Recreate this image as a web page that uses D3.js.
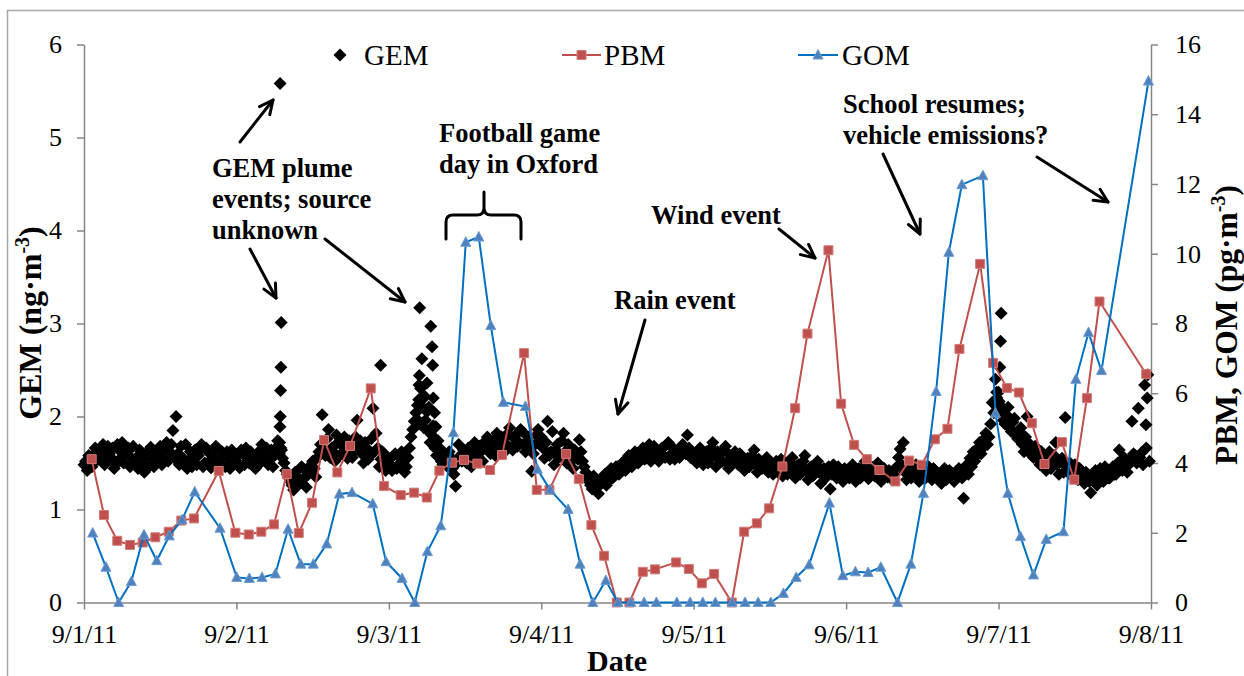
<!DOCTYPE html>
<html>
<head>
<meta charset="utf-8">
<script src="https://cdn.jsdelivr.net/npm/d3@7"></script>
<style>
  html, body { margin: 0; padding: 0; background: #fff; }
  svg { display: block; }
  text { font-family: "Liberation Serif", "Times New Roman", serif; fill: #000; }
</style>
</head>
<body>
<svg id="chart" width="1244" height="676"></svg>
<script>
// ---- data -------------------------------------------------------------
// Time axis is expressed in hours after 9/1/11 00:00.
const dayHours = [0, 24, 48, 72, 96, 120, 144, 168];
const dateLabels = ["9/1/11", "9/2/11", "9/3/11", "9/4/11", "9/5/11", "9/6/11", "9/7/11", "9/8/11"];
const gemTicks = [0, 1, 2, 3, 4, 5, 6];
const oxidizedTicks = [0, 2, 4, 6, 8, 10, 12, 14, 16];

// GEM (ng/m3) readings on the hour and half hour, starting 9/1 00:00
const gemStepHours = 0.5;
const gemOnHalfHour = [
  // 9/1
  1.48,1.42,1.55,1.50,1.62,1.58,1.70,1.52,1.60,1.66,1.48,1.64,
  1.72,1.58,1.66,1.55,1.50,1.44,1.62,1.40,1.58,1.67,1.46,1.52,
  1.68,1.55,1.72,1.62,1.85,2.00,1.48,1.56,1.70,1.52,1.46,1.64,
  1.58,1.70,1.50,1.62,1.45,1.55,1.66,1.48,1.58,1.62,1.44,1.52,
  // 9/2
  1.52,1.45,1.60,1.66,1.50,1.58,1.44,1.62,1.70,1.55,1.48,1.64,
  1.58,1.74,1.66,1.50,1.38,1.30,1.21,1.36,1.28,1.44,1.24,1.40,
  1.52,1.35,1.62,2.02,1.58,1.86,1.66,1.52,1.72,1.60,1.78,1.55,
  1.68,1.62,1.96,1.74,1.50,1.66,1.58,2.09,1.82,1.46,1.62,1.42,
  // 9/3
  1.55,1.42,1.60,1.48,1.62,1.40,1.56,1.78,1.95,2.12,2.30,1.88,
  2.05,1.72,1.90,1.58,1.66,1.48,1.55,1.62,1.44,1.25,1.70,1.52,
  1.58,1.66,1.46,1.72,1.55,1.62,1.68,1.78,1.60,1.74,1.82,1.66,
  1.76,1.70,1.88,1.64,1.80,1.72,1.84,1.62,1.78,1.41,1.70,1.86,
  // 9/4
  1.78,1.55,1.95,1.62,1.48,1.70,1.58,1.82,1.50,1.66,1.44,1.60,
  1.75,1.52,1.40,1.30,1.22,1.32,1.17,1.28,1.38,1.30,1.44,1.36,
  1.46,1.40,1.52,1.44,1.55,1.48,1.60,1.52,1.66,1.55,1.70,1.58,
  1.62,1.52,1.66,1.56,1.72,1.60,1.54,1.64,1.58,1.68,1.80,1.56,
  // 9/5
  1.58,1.50,1.66,1.48,1.62,1.54,1.72,1.46,1.60,1.52,1.68,1.44,
  1.56,1.62,1.48,1.58,1.42,1.55,1.50,1.64,1.40,1.52,1.46,1.56,
  1.44,1.38,1.52,1.46,1.36,1.50,1.42,1.56,1.34,1.48,1.40,1.58,
  1.32,1.46,1.38,1.52,1.28,1.44,1.36,1.22,1.48,1.34,1.42,1.30,
  // 9/6
  1.42,1.34,1.48,1.30,1.44,1.38,1.52,1.33,1.46,1.36,1.50,1.30,
  1.44,1.35,1.40,1.38,1.46,1.65,1.72,1.32,1.42,1.36,1.48,1.30,
  1.40,1.34,1.46,1.32,1.42,1.38,1.28,1.44,1.35,1.40,1.30,1.36,
  1.42,1.12,1.48,1.55,1.62,1.58,1.72,1.66,1.82,1.78,2.15,2.40,
  // 9/7
  2.26,2.05,1.92,2.10,1.84,1.98,1.76,1.88,1.62,2.00,1.70,1.56,
  1.66,1.48,1.58,1.42,1.62,1.50,1.72,1.38,1.55,1.99,1.44,1.36,
  1.48,1.32,1.42,1.28,1.38,1.18,1.34,1.26,1.44,1.30,1.40,1.34,
  1.46,1.38,1.64,1.42,1.52,1.48,1.95,1.58,2.09,1.61,2.34,2.45
];

// GEM readings at quarter past / quarter to, starting 9/1 00:15
const gemQuarterOffset = 0.25;
const gemOnQuarter = [
  // 9/1
  1.52,1.58,1.46,1.66,1.54,1.64,1.48,1.68,1.56,1.44,1.70,1.55,
  1.50,1.62,1.46,1.68,1.56,1.64,1.50,1.60,1.46,1.55,1.62,1.58,
  1.48,1.64,1.52,1.70,1.55,1.60,1.68,1.50,1.44,1.62,1.58,1.48,
  1.64,1.46,1.66,1.52,1.58,1.68,1.50,1.62,1.46,1.55,1.64,1.50,
  // 9/2
  1.58,1.64,1.48,1.55,1.62,1.46,1.56,1.50,1.60,1.66,1.54,1.46,
  1.66,1.60,1.55,1.42,1.34,1.26,1.40,1.30,1.46,1.34,1.38,1.48,
  1.44,1.56,1.70,1.64,1.76,1.56,1.62,1.80,1.58,1.68,1.62,1.74,
  1.56,1.78,1.70,1.60,1.72,1.54,1.76,1.62,1.66,1.54,1.48,1.56,
  // 9/3
  1.48,1.58,1.44,1.56,1.50,1.46,1.66,1.86,2.04,1.92,2.18,1.96,
  1.84,1.80,1.66,1.74,1.52,1.60,1.46,1.56,1.38,1.50,1.58,1.64,
  1.50,1.56,1.62,1.58,1.68,1.52,1.74,1.64,1.70,1.58,1.72,1.78,
  1.62,1.82,1.66,1.76,1.68,1.86,1.70,1.74,1.66,1.60,1.80,1.72,
  // 9/4
  1.66,1.72,1.58,1.84,1.64,1.56,1.74,1.62,1.70,1.52,1.64,1.54,
  1.62,1.46,1.34,1.26,1.36,1.24,1.30,1.34,1.26,1.40,1.34,1.46,
  1.38,1.50,1.42,1.58,1.46,1.62,1.50,1.60,1.54,1.64,1.52,1.68,
  1.56,1.64,1.58,1.70,1.54,1.66,1.62,1.56,1.70,1.60,1.66,1.62,
  // 9/5
  1.52,1.64,1.56,1.60,1.50,1.66,1.58,1.62,1.54,1.64,1.50,1.58,
  1.50,1.54,1.60,1.46,1.52,1.46,1.58,1.48,1.54,1.44,1.52,1.40,
  1.50,1.46,1.40,1.54,1.44,1.38,1.50,1.44,1.46,1.38,1.52,1.42,
  1.44,1.36,1.48,1.40,1.38,1.34,1.46,1.38,1.40,1.46,1.36,1.44,
  // 9/6
  1.36,1.44,1.38,1.42,1.34,1.46,1.40,1.44,1.38,1.42,1.34,1.40,
  1.36,1.42,1.32,1.44,1.56,1.48,1.40,1.44,1.34,1.40,1.36,1.42,
  1.34,1.42,1.38,1.44,1.34,1.36,1.40,1.32,1.42,1.34,1.40,1.44,
  1.34,1.40,1.38,1.46,1.52,1.66,1.60,1.76,1.70,1.92,2.04,2.20,
  // 9/7
  2.12,1.96,2.02,1.88,1.94,1.80,1.84,1.70,1.78,1.64,1.58,1.68,
  1.54,1.62,1.46,1.56,1.44,1.58,1.48,1.52,1.40,1.46,1.50,1.42,
  1.38,1.44,1.34,1.40,1.30,1.36,1.42,1.32,1.38,1.46,1.34,1.42,
  1.38,1.50,1.44,1.56,1.40,1.54,1.60,1.50,1.56,1.48,1.66,1.52
];

// GEM plume readings at finer time resolution
const gemPlumeHours = [
  30.80, 30.85, 30.87, 30.90, 30.95, 31.00, 31.05, 31.10,
  46.70,
  52.60, 52.70, 52.75, 52.80, 52.85, 53.00, 53.20, 53.60, 54.00, 54.30, 54.60, 54.80, 54.90, 55.00, 55.20, 55.40,
  143.70, 143.90, 144.10, 144.20, 144.30, 144.40,
  167.20, 167.40
];
const gemPlumeValues = [
  1.72, 1.89, 5.58, 2.00, 2.28, 2.53, 3.01, 1.64,
  2.55,
  1.96, 2.18, 2.34, 2.44, 3.17, 2.12, 2.62, 2.22, 2.36, 2.10, 2.97, 2.75, 2.55, 2.20, 2.04, 1.89,
  2.26, 2.05, 2.16, 2.53, 2.81, 3.11,
  1.91, 2.20
];

// PBM (pg/m3), two-hour samples
const pbmHours = [
  1.21, 3.15, 5.24, 7.24, 9.24, 11.23, 13.34, 15.32, 17.32, 21.21, 23.83,
  25.94, 27.92, 29.92, 31.92, 33.81, 35.91, 37.80, 39.89, 41.89, 45.15, 47.24,
  49.87, 51.97, 53.97, 55.95, 57.91, 59.84, 61.94, 63.94, 65.83, 69.29, 71.29,
  73.28, 75.91, 77.91, 79.89, 81.89, 83.89, 85.87, 87.98, 89.92, 93.23, 95.23,
  97.28, 99.21, 102.00, 103.94, 105.94, 107.87, 109.97, 111.97, 113.91, 117.21, 119.21,
  121.26, 123.26, 125.24, 127.76, 129.92, 131.92, 133.97, 135.95, 137.84, 141.10, 143.15,
  145.31, 147.20, 149.24, 151.23, 153.97, 155.91, 157.91, 159.89, 167.24
];
const pbmValues = [
  4.11, 2.51, 1.77, 1.65, 1.72, 1.87, 2.03, 2.35, 2.41, 3.77, 2.00,
  1.95, 2.03, 2.24, 3.68, 1.99, 2.86, 4.66, 3.73, 4.49, 6.14, 3.34,
  3.08, 3.15, 3.01, 3.78, 4.01, 4.09, 3.98, 3.80, 4.23, 7.15, 3.23,
  3.23, 4.26, 3.54, 2.22, 1.34, 0, 0, 0.88, 0.95, 1.15, 0.96,
  0.55, 0.82, 0, 2.03, 2.27, 2.70, 3.90, 5.57, 7.71, 10.10, 5.70,
  4.52, 4.11, 3.80, 3.47, 4.07, 3.95, 4.68, 4.98, 7.27, 9.71, 6.87,
  6.15, 6.02, 5.14, 3.97, 4.60, 3.52, 5.86, 8.63, 6.55
];

// GOM (pg/m3), two-hour samples
const gomHours = [
  1.37, 3.46, 5.46, 7.45, 9.45, 11.45, 13.43, 15.43, 17.43, 21.42,
  24.05, 26.03, 28.03, 30.13, 32.13, 34.13, 36.11, 38.22, 40.20, 42.20, 45.46, 47.56,
  50.08, 52.08, 54.06, 56.17, 58.16, 60.11, 62.16, 64.05, 66.03, 69.50, 71.39,
  73.39, 76.22, 78.11, 80.11, 82.16, 84.05, 86.09, 88.19, 90.13, 93.34, 95.43,
  97.43, 99.42, 102.05, 104.09, 106.14, 108.14, 110.13, 112.13, 114.17, 117.37, 119.48,
  121.46, 123.46, 125.46, 128.08, 130.19, 132.17, 134.17, 136.17, 138.22, 141.53, 143.51,
  145.46, 147.45, 149.50, 151.50, 154.22, 156.17, 158.16, 160.20, 167.60
];
const gomValues = [
  1.99, 1.01, 0, 0.60, 1.94, 1.20, 1.91, 2.37, 3.17, 2.13,
  0.72, 0.69, 0.72, 0.82, 2.10, 1.10, 1.10, 1.68, 3.11, 3.15, 2.83, 1.17,
  0.69, 0, 1.46, 2.20, 4.87, 10.33, 10.48, 7.94, 5.74, 5.62, 3.82,
  3.23, 2.67, 1.10, 0, 0.63, 0, 0, 0, 0, 0, 0,
  0, 0, 0, 0, 0, 0, 0.26, 0.72, 1.08, 2.85, 0.77,
  0.88, 0.86, 1.01, 0, 1.10, 3.13, 6.05, 10.04, 11.98, 12.24, 5.43,
  3.13, 1.89, 0.79, 1.81, 2.03, 6.40, 7.74, 6.65, 14.95
];

// ---- layout -----------------------------------------------------------
const svg = d3.select("#chart");
const axisColor = "#868686";
const pbmColor = "#c0504d";
const gomLine = "#0070c0";
const gomFill = "#4f81bd";

const x = d3.scaleLinear().domain([0, 168]).range([84, 1151]);
const yGem = d3.scaleLinear().domain([0, 6]).range([602.5, 44.5]);
const yOx = d3.scaleLinear().domain([0, 16]).range([602.5, 44.5]);

// outer frame
svg.append("rect")
  .attr("x", 7.5).attr("y", 10.5).attr("width", 1260).attr("height", 700)
  .attr("fill", "none").attr("stroke", "#a6a6a6").attr("stroke-width", 1.5);

// ---- axes -------------------------------------------------------------
function styleAxis(g) {
  g.attr("font-family", null);
  g.select(".domain").attr("stroke", axisColor).attr("stroke-width", 1.5);
  g.selectAll(".tick line").attr("stroke", axisColor).attr("stroke-width", 1.5);
  g.selectAll(".tick text").attr("font-size", 26).attr("fill", "#000");
}

const xAxis = svg.append("g")
  .attr("transform", `translate(0,${yGem(0)})`)
  .call(d3.axisBottom(x).tickValues(dayHours)
    .tickFormat((d, i) => dateLabels[i]).tickSize(7).tickSizeOuter(0))
  .call(styleAxis);
xAxis.selectAll(".tick text").attr("y", 40).attr("dy", null);

svg.append("g")
  .attr("transform", `translate(${x(0)},0)`)
  .call(d3.axisLeft(yGem).tickValues(gemTicks).tickFormat(d3.format("d"))
    .tickSize(7).tickPadding(15).tickSizeOuter(0))
  .call(styleAxis);

svg.append("g")
  .attr("transform", `translate(${x(168)},0)`)
  .call(d3.axisRight(yOx).tickValues(oxidizedTicks).tickFormat(d3.format("d"))
    .tickSize(7).tickPadding(17).tickSizeOuter(0))
  .call(styleAxis);

// axis titles
const leftTitle = svg.append("text")
  .attr("transform", "translate(41,323) rotate(-90)")
  .attr("text-anchor", "middle").attr("font-weight", "bold").attr("font-size", 32);
leftTitle.append("tspan").text("GEM (ng·m");
leftTitle.append("tspan").attr("font-size", 20).attr("dy", -12).text("-3");
leftTitle.append("tspan").attr("dy", 12).text(")");

const rightTitle = svg.append("text")
  .attr("transform", "translate(1237,325) rotate(-90)")
  .attr("text-anchor", "middle").attr("font-weight", "bold").attr("font-size", 31.5);
rightTitle.append("tspan").text("PBM, GOM (pg·m");
rightTitle.append("tspan").attr("font-size", 20).attr("dy", -12).text("-3");
rightTitle.append("tspan").attr("dy", 12).text(")");

svg.append("text").attr("x", 617).attr("y", 671)
  .attr("text-anchor", "middle").attr("font-weight", "bold").attr("font-size", 30)
  .text("Date");

// ---- series -----------------------------------------------------------
const diamond = r => `M0,${-r}L${r},0L0,${r}L${-r},0Z`;
const square = s => `M${-s / 2},${-s / 2}h${s}v${s}h${-s}Z`;
const triangle = `M0,-5.5L5,4L-5,4Z`;

const gemPoints = gemOnHalfHour.map((v, i) => [i * gemStepHours, v])
  .concat(gemOnQuarter.map((v, i) => [i * gemStepHours + gemQuarterOffset, v]))
  .concat(gemPlumeHours.map((h, i) => [h, gemPlumeValues[i]]));

svg.append("g").selectAll("path").data(gemPoints).join("path")
  .attr("d", diamond(6.5))
  .attr("transform", d => `translate(${x(d[0])},${yGem(d[1])})`)
  .attr("fill", "#000");

const pbmPoints = pbmHours.map((h, i) => [h, pbmValues[i]]);
svg.append("path").datum(pbmPoints)
  .attr("fill", "none").attr("stroke", pbmColor).attr("stroke-width", 2)
  .attr("d", d3.line().x(d => x(d[0])).y(d => yOx(d[1])));
svg.append("g").selectAll("path").data(pbmPoints).join("path")
  .attr("d", square(9))
  .attr("transform", d => `translate(${x(d[0])},${yOx(d[1])})`)
  .attr("fill", pbmColor).attr("stroke", "#d27c79").attr("stroke-width", 1);

const gomPoints = gomHours.map((h, i) => [h, gomValues[i]]);
svg.append("path").datum(gomPoints)
  .attr("fill", "none").attr("stroke", gomLine).attr("stroke-width", 2)
  .attr("d", d3.line().x(d => x(d[0])).y(d => yOx(d[1])));
svg.append("g").selectAll("path").data(gomPoints).join("path")
  .attr("d", triangle)
  .attr("transform", d => `translate(${x(d[0])},${yOx(d[1])})`)
  .attr("fill", gomFill).attr("stroke", "#6d9bd3").attr("stroke-width", 1);

// ---- legend -----------------------------------------------------------
const legend = svg.append("g");
legend.append("path").attr("d", diamond(6.5)).attr("transform", "translate(340,55)").attr("fill", "#000");
legend.append("text").attr("x", 364).attr("y", 65).attr("font-size", 29).text("GEM");

legend.append("line").attr("x1", 562).attr("x2", 601).attr("y1", 55).attr("y2", 55)
  .attr("stroke", pbmColor).attr("stroke-width", 2);
legend.append("path").attr("d", square(9)).attr("transform", "translate(581.5,55)")
  .attr("fill", pbmColor).attr("stroke", "#d27c79");
legend.append("text").attr("x", 604).attr("y", 65).attr("font-size", 29).text("PBM");

legend.append("line").attr("x1", 798).attr("x2", 838).attr("y1", 55).attr("y2", 55)
  .attr("stroke", gomLine).attr("stroke-width", 2);
legend.append("path").attr("d", triangle).attr("transform", "translate(818,55)")
  .attr("fill", gomFill).attr("stroke", "#6d9bd3");
legend.append("text").attr("x", 842).attr("y", 65).attr("font-size", 29).text("GOM");

// ---- annotations ------------------------------------------------------
const notes = [
  { x: 212, y: 177, lines: ["GEM plume", "events; source", "unknown"] },
  { x: 439, y: 142, lines: ["Football game", "day in Oxford"] },
  { x: 651, y: 224, lines: ["Wind event"] },
  { x: 614, y: 309, lines: ["Rain event"] },
  { x: 843, y: 113, lines: ["School resumes;", "vehicle emissions?"] }
];
notes.forEach(n => {
  const t = svg.append("text").attr("font-weight", "bold").attr("font-size", 26.5);
  n.lines.forEach((s, i) => t.append("tspan").attr("x", n.x).attr("y", n.y + i * 31).text(s));
});

const arrows = [
  [240, 142, 273, 100],
  [250, 249, 276, 298],
  [325, 239, 405, 302],
  [779, 229, 815, 258],
  [645, 320, 618, 414],
  [883, 154, 920, 234],
  [1037, 157, 1108, 202]
];
const arrowG = svg.append("g").attr("stroke", "#000").attr("stroke-width", 3)
  .attr("fill", "none").attr("stroke-linecap", "round").attr("stroke-linejoin", "round");
arrows.forEach(([x1, y1, x2, y2]) => {
  const a = Math.atan2(y2 - y1, x2 - x1);
  const len = 15, spread = 0.45;
  arrowG.append("line").attr("x1", x1).attr("y1", y1).attr("x2", x2).attr("y2", y2);
  arrowG.append("path").attr("d",
    `M${x2 - len * Math.cos(a - spread)},${y2 - len * Math.sin(a - spread)}` +
    `L${x2},${y2}` +
    `L${x2 - len * Math.cos(a + spread)},${y2 - len * Math.sin(a + spread)}`);
});

// curly brace over the game-day peak
arrowG.append("path").attr("d",
  "M446,239V222Q446,215 453,215H477Q484,215 484,208V192" +
  "M484,208Q484,215 491,215H514Q521,215 521,222V239");
</script>
</body>
</html>
